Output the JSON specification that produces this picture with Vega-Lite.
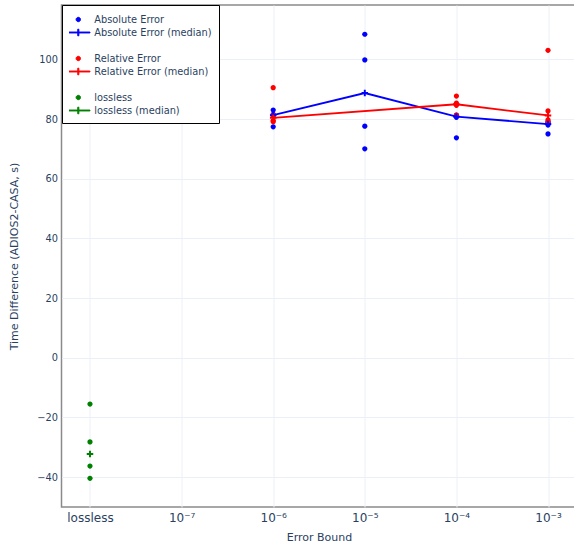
{
  "$schema": "https://vega.github.io/schema/vega-lite/v6.json",
  "width": 515,
  "height": 502,
  "autosize": {"type": "none"},
  "padding": {"left": 61.5, "top": 5, "right": 0, "bottom": 41},
  "background": "white",
  "config": {
    "font": "DejaVu Sans",
    "view": {"stroke": "#8a8a8a", "strokeWidth": 1.5},
    "axis": {"grid": true, "gridColor": "#EBF0F8", "gridWidth": 1, "ticks": false, "domain": false, "labelColor": "#2a3f5f", "titleColor": "#2a3f5f", "titleFontWeight": "normal"}
  },
  "data": {"values": [
    {"eb": -6, "value": 83.0, "series": "Absolute Error", "mseries": "Absolute Error (median)"},
    {"eb": -6, "value": 81.6, "series": "Absolute Error", "mseries": "Absolute Error (median)"},
    {"eb": -6, "value": 81.0, "series": "Absolute Error", "mseries": "Absolute Error (median)"},
    {"eb": -6, "value": 77.4, "series": "Absolute Error", "mseries": "Absolute Error (median)"},
    {"eb": -5, "value": 108.4, "series": "Absolute Error", "mseries": "Absolute Error (median)"},
    {"eb": -5, "value": 99.8, "series": "Absolute Error", "mseries": "Absolute Error (median)"},
    {"eb": -5, "value": 77.6, "series": "Absolute Error", "mseries": "Absolute Error (median)"},
    {"eb": -5, "value": 70.0, "series": "Absolute Error", "mseries": "Absolute Error (median)"},
    {"eb": -4, "value": 81.3, "series": "Absolute Error", "mseries": "Absolute Error (median)"},
    {"eb": -4, "value": 81.0, "series": "Absolute Error", "mseries": "Absolute Error (median)"},
    {"eb": -4, "value": 80.6, "series": "Absolute Error", "mseries": "Absolute Error (median)"},
    {"eb": -4, "value": 73.7, "series": "Absolute Error", "mseries": "Absolute Error (median)"},
    {"eb": -3, "value": 79.0, "series": "Absolute Error", "mseries": "Absolute Error (median)"},
    {"eb": -3, "value": 78.6, "series": "Absolute Error", "mseries": "Absolute Error (median)"},
    {"eb": -3, "value": 78.0, "series": "Absolute Error", "mseries": "Absolute Error (median)"},
    {"eb": -3, "value": 75.0, "series": "Absolute Error", "mseries": "Absolute Error (median)"},
    {"eb": -6, "value": 90.5, "series": "Relative Error", "mseries": "Relative Error (median)"},
    {"eb": -6, "value": 81.3, "series": "Relative Error", "mseries": "Relative Error (median)"},
    {"eb": -6, "value": 79.5, "series": "Relative Error", "mseries": "Relative Error (median)"},
    {"eb": -6, "value": 79.1, "series": "Relative Error", "mseries": "Relative Error (median)"},
    {"eb": -4, "value": 87.7, "series": "Relative Error", "mseries": "Relative Error (median)"},
    {"eb": -4, "value": 85.3, "series": "Relative Error", "mseries": "Relative Error (median)"},
    {"eb": -4, "value": 84.6, "series": "Relative Error", "mseries": "Relative Error (median)"},
    {"eb": -4, "value": 81.3, "series": "Relative Error", "mseries": "Relative Error (median)"},
    {"eb": -3, "value": 103.0, "series": "Relative Error", "mseries": "Relative Error (median)"},
    {"eb": -3, "value": 82.7, "series": "Relative Error", "mseries": "Relative Error (median)"},
    {"eb": -3, "value": 79.7, "series": "Relative Error", "mseries": "Relative Error (median)"},
    {"eb": -3, "value": 79.1, "series": "Relative Error", "mseries": "Relative Error (median)"},
    {"eb": -8, "value": -15.5, "series": "lossless", "mseries": "lossless (median)"},
    {"eb": -8, "value": -28.2, "series": "lossless", "mseries": "lossless (median)"},
    {"eb": -8, "value": -36.3, "series": "lossless", "mseries": "lossless (median)"},
    {"eb": -8, "value": -40.4, "series": "lossless", "mseries": "lossless (median)"}
  ]},
  "encoding": {
    "x": {"field": "eb", "type": "quantitative",
      "scale": {"domain": [-8.311, -2.689], "nice": false, "zero": false},
      "axis": {"values": [-8, -7, -6, -5, -4, -3],
        "labelExpr": "datum.value == -8 ? 'lossless' : datum.value == -7 ? '10⁻⁷' : datum.value == -6 ? '10⁻⁶' : datum.value == -5 ? '10⁻⁵' : datum.value == -4 ? '10⁻⁴' : '10⁻³'",
        "labelFontSize": 12, "labelPadding": 5, "labelFlush": false, "labelOverlap": false,
        "title": "Error Bound", "titleFontSize": 11, "titlePadding": 8}},
    "y": {"field": "value", "type": "quantitative",
      "scale": {"domain": [-50, 118.2], "nice": false, "zero": false},
      "axis": {"values": [-40, -20, 0, 20, 40, 60, 80, 100], "labelFontSize": 9.8, "labelPadding": 4,
        "title": "Time Difference (ADIOS2-CASA, s)", "titleFontSize": 11, "titlePadding": 17}}
  },
  "layer": [
    {
      "mark": {"type": "point", "filled": true, "size": 170, "opacity": 1},
      "encoding": {
        "color": {"field": "series", "type": "nominal",
          "scale": {"domain": ["Absolute Error", "Absolute Error (median)", " ", "Relative Error", "Relative Error (median)", "  ", "lossless", "lossless (median)"],
                    "range": ["#0000ff", "#0000ff", "transparent", "#ff0000", "#ff0000", "transparent", "#008000", "#008000"]},
          "legend": {"title": " ", "titleFontSize": 2, "titlePadding": 0, "orient": "none", "legendX": 0.5, "legendY": 0,
            "fillColor": "white", "strokeColor": "black", "padding": 7, "labelFontSize": 9.8, "labelColor": "#2a3f5f",
            "symbolSize": 121, "symbolOffset": 3.3, "labelOffset": 10, "rowPadding": 2, "clipHeight": 11, "symbolStrokeWidth": 1, "symbolOpacity": 1}},
        "shape": {"field": "series", "type": "nominal",
          "scale": {"domain": ["Absolute Error", "Absolute Error (median)", " ", "Relative Error", "Relative Error (median)", "  ", "lossless", "lossless (median)"],
                    "range": ["M-0.4,0A0.4,0.4,0,1,0,0.4,0A0.4,0.4,0,1,0,-0.4,0Z",
                              "M-2.12,-0.08H-0.1V-0.6H0.1V-0.08H2.12V0.08H0.1V0.6H-0.1V0.08H-2.12Z",
                              "M-0.4,0A0.4,0.4,0,1,0,0.4,0A0.4,0.4,0,1,0,-0.4,0Z",
                              "M-0.4,0A0.4,0.4,0,1,0,0.4,0A0.4,0.4,0,1,0,-0.4,0Z",
                              "M-2.12,-0.08H-0.1V-0.6H0.1V-0.08H2.12V0.08H0.1V0.6H-0.1V0.08H-2.12Z",
                              "M-0.4,0A0.4,0.4,0,1,0,0.4,0A0.4,0.4,0,1,0,-0.4,0Z",
                              "M-0.4,0A0.4,0.4,0,1,0,0.4,0A0.4,0.4,0,1,0,-0.4,0Z",
                              "M-2.12,-0.08H-0.1V-0.6H0.1V-0.08H2.12V0.08H0.1V0.6H-0.1V0.08H-2.12Z"]},
          "legend": {"title": " ", "titleFontSize": 2, "titlePadding": 0, "orient": "none", "legendX": 0.5, "legendY": 0,
            "fillColor": "white", "strokeColor": "black", "padding": 7, "labelFontSize": 9.8, "labelColor": "#2a3f5f",
            "symbolSize": 121, "symbolOffset": 3.3, "labelOffset": 10, "rowPadding": 2, "clipHeight": 11, "symbolStrokeWidth": 0.8, "symbolOpacity": 1}}
      }
    },
    {
      "transform": [{"aggregate": [{"op": "median", "field": "value", "as": "value"}], "groupby": ["mseries", "eb"]}],
      "mark": {"type": "line", "strokeWidth": 1.8},
      "encoding": {
        "color": {"field": "mseries", "type": "nominal",
          "legend": {"title": " ", "titleFontSize": 2, "titlePadding": 0, "orient": "none", "legendX": 0.5, "legendY": 0,
            "fillColor": "white", "strokeColor": "black", "padding": 7, "labelFontSize": 9.8, "labelColor": "#2a3f5f",
            "symbolSize": 121, "symbolOffset": 3.3, "labelOffset": 10, "rowPadding": 2, "clipHeight": 11, "symbolStrokeWidth": 0.8, "symbolOpacity": 1}}
      }
    },
    {
      "transform": [{"aggregate": [{"op": "median", "field": "value", "as": "value"}], "groupby": ["mseries", "eb"]}],
      "mark": {"type": "point", "filled": true, "opacity": 1, "size": 42, "shape": "M-1,-0.3H-0.3V-1H0.3V-0.3H1V0.3H0.3V1H-0.3V0.3H-1Z"},
      "encoding": {
        "color": {"field": "mseries", "type": "nominal",
          "legend": {"title": " ", "titleFontSize": 2, "titlePadding": 0, "orient": "none", "legendX": 0.5, "legendY": 0,
            "fillColor": "white", "strokeColor": "black", "padding": 7, "labelFontSize": 9.8, "labelColor": "#2a3f5f",
            "symbolSize": 121, "symbolOffset": 3.3, "labelOffset": 10, "rowPadding": 2, "clipHeight": 11, "symbolStrokeWidth": 0.8, "symbolOpacity": 1}}
      }
    }
  ]
}
